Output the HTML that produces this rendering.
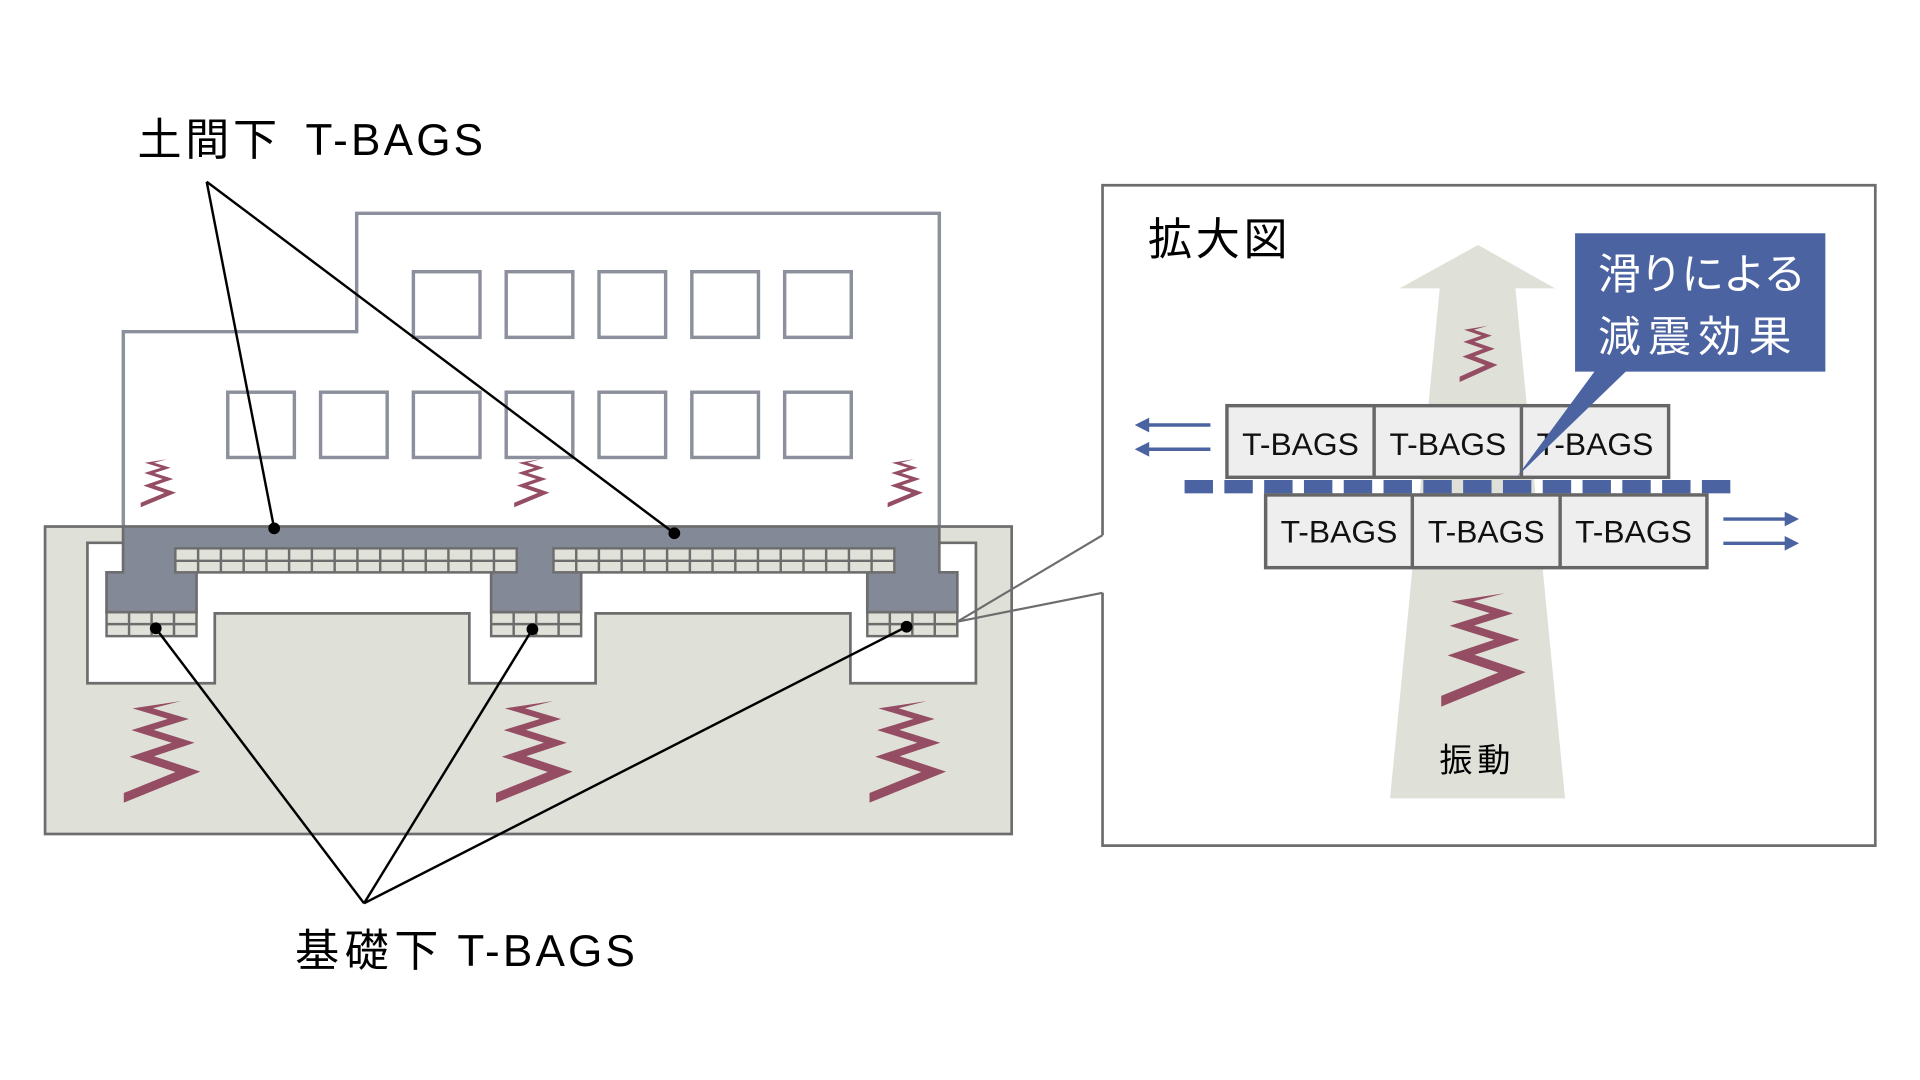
<!DOCTYPE html>
<html><head><meta charset="utf-8"><style>
html,body{margin:0;padding:0;background:#fff;}
svg{display:block;}
text{font-family:"Liberation Sans","Noto Sans CJK JP",sans-serif;}
</style></head><body>
<svg width="1920" height="1080" viewBox="0 0 1568 882" xmlns="http://www.w3.org/2000/svg">
<defs>
<path id="sp" d="M75,0 L11.5,7.2 L57.6,17.55 L10,28.6 L62.6,41 L7.5,54.8 L67.6,69.9 L0,90.5 L0,100 L100,69.5 L39.4,54.3 L92.5,41 L38.9,28.4 L85,17.7 L37.9,7.1 Z" fill="#944d63"/>
</defs>
<rect width="1568" height="882" fill="#fff"/>

<!-- ground -->
<rect x="36.8" y="430" width="789.4" height="251.1" fill="#dfe0d8" stroke="#6d6d6d" stroke-width="2.2"/>
<path d="M100.5,443.3 H71.4 V558 H175.4 V500.9 H383.3 V558 H486.4 V500.9 H694.5 V558 H797 V443.3 H767 Z" fill="#fff" stroke="#6d6d6d" stroke-width="2.2"/>

<!-- building -->
<polyline points="100.7,430 100.7,270.9 291.3,270.9 291.3,174.2 767.1,174.2 767.1,430" fill="#fff" stroke="#8b909c" stroke-width="2.8"/>
<g fill="none" stroke="#8b909c" stroke-width="2.8">
<rect x="337.6" y="221.9" width="54.4" height="53.6"/>
<rect x="413.4" y="221.9" width="54.4" height="53.6"/>
<rect x="489.2" y="221.9" width="54.4" height="53.6"/>
<rect x="565" y="221.9" width="54.4" height="53.6"/>
<rect x="640.8" y="221.9" width="54.4" height="53.6"/>
<rect x="186" y="320.3" width="54.4" height="53.3"/>
<rect x="261.8" y="320.3" width="54.4" height="53.3"/>
<rect x="337.6" y="320.3" width="54.4" height="53.3"/>
<rect x="413.4" y="320.3" width="54.4" height="53.3"/>
<rect x="489.2" y="320.3" width="54.4" height="53.3"/>
<rect x="565" y="320.3" width="54.4" height="53.3"/>
<rect x="640.8" y="320.3" width="54.4" height="53.3"/>
</g>

<!-- small springs in building -->
<use href="#sp" transform="translate(114.9,375.1) scale(0.288,0.392)"/>
<use href="#sp" transform="translate(419.9,375.1) scale(0.288,0.392)"/>
<use href="#sp" transform="translate(724.9,375.1) scale(0.288,0.392)"/>

<!-- slab -->
<path d="M100.5,430 H767.1 V467.4 H781.8 V500 H708.3 V467.4 H474.6 V500 H401.1 V467.4 H160.5 V500 H87 V467.4 H100.5 Z" fill="#838996" stroke="#6d6d6d" stroke-width="2.2"/>

<!-- slab grids -->
<g fill="#e0e1d9" stroke="#6d6d6d" stroke-width="2">
<rect x="143.2" y="447.8" width="278.8" height="19.6"/>
<rect x="452" y="447.8" width="278.4" height="19.6"/>
<rect x="87" y="500" width="73.5" height="19.5"/>
<rect x="401.1" y="500" width="73.5" height="19.5"/>
<rect x="708.3" y="500" width="73.5" height="19.5"/>
</g>
<g stroke="#6d6d6d" stroke-width="2" fill="none">
<path d="M143.2,458 H422 M452,458 H730.4 M87,509.7 H160.5 M401.1,509.7 H474.6 M708.3,509.7 H781.8"/>
<path d="M161.8,447.8V467.4 M180.4,447.8V467.4 M199,447.8V467.4 M217.6,447.8V467.4 M236.1,447.8V467.4 M254.7,447.8V467.4 M273.3,447.8V467.4 M291.9,447.8V467.4 M310.5,447.8V467.4 M329.1,447.8V467.4 M347.7,447.8V467.4 M366.2,447.8V467.4 M384.8,447.8V467.4 M403.4,447.8V467.4"/>
<path d="M470.6,447.8V467.4 M489.1,447.8V467.4 M507.7,447.8V467.4 M526.2,447.8V467.4 M544.8,447.8V467.4 M563.4,447.8V467.4 M581.9,447.8V467.4 M600.5,447.8V467.4 M619,447.8V467.4 M637.6,447.8V467.4 M656.2,447.8V467.4 M674.7,447.8V467.4 M693.3,447.8V467.4 M711.8,447.8V467.4"/>
<path d="M105.4,500V519.5 M123.8,500V519.5 M142.1,500V519.5 M419.5,500V519.5 M437.9,500V519.5 M456.2,500V519.5 M726.7,500V519.5 M745.1,500V519.5 M763.4,500V519.5"/>
</g>

<!-- big springs in ground -->
<use href="#sp" transform="translate(101.1,572.5) scale(0.625,0.83)"/>
<use href="#sp" transform="translate(405.1,572.5) scale(0.625,0.83)"/>
<use href="#sp" transform="translate(710.1,572.5) scale(0.625,0.83)"/>

<!-- callout connector -->
<g stroke="#6d6d6d" stroke-width="1.8" fill="none">
<line x1="781.8" y1="507.7" x2="900.4" y2="437.1"/>
<line x1="781.8" y1="507.7" x2="900.4" y2="484.1"/>
<path d="M900.4,437.1 V151.3 H1531.5 V690.6 H900.4 V484.1" stroke-width="2.2"/>
</g>

<!-- leader lines -->
<g stroke="#000" stroke-width="2" fill="none">
<line x1="168.8" y1="148.4" x2="223.9" y2="431.5"/>
<line x1="168.8" y1="148.4" x2="550.7" y2="435.5"/>
<line x1="297.3" y1="737.7" x2="127.2" y2="513.1"/>
<line x1="297.3" y1="737.7" x2="434.8" y2="513.9"/>
<line x1="297.3" y1="737.7" x2="740.4" y2="511.8"/>
</g>
<g fill="#000">
<circle cx="223.9" cy="431.5" r="4.8"/>
<circle cx="550.7" cy="435.5" r="4.8"/>
<circle cx="127.2" cy="513.1" r="4.8"/>
<circle cx="434.8" cy="513.9" r="4.8"/>
<circle cx="740.4" cy="511.8" r="4.8"/>
</g>

<!-- labels -->
<text x="112.3" y="126.6" font-size="36" textLength="114" lengthAdjust="spacing" fill="#000">土間下</text>
<text x="249.5" y="126.6" font-size="36" textLength="145" lengthAdjust="spacing" fill="#000">T-BAGS</text>
<text x="241" y="788.9" font-size="36" textLength="117" lengthAdjust="spacing" fill="#000">基礎下</text>
<text x="373.5" y="788.9" font-size="36" textLength="145" lengthAdjust="spacing" fill="#000">T-BAGS</text>

<!-- right panel -->
<text x="937.5" y="208" font-size="36" textLength="114" lengthAdjust="spacing" fill="#000">拡大図</text>

<polygon points="1207.1,200.1 1270,235.5 1237.6,235.5 1278.1,652 1135.2,652 1175.8,235.5 1142.9,235.5" fill="#dfe0d8"/>
<use href="#sp" transform="translate(1192,266) scale(0.31,0.46)"/>
<use href="#sp" transform="translate(1177,484.5) scale(0.69,0.926)"/>
<text x="1175.5" y="630" font-size="27" textLength="58" lengthAdjust="spacing" fill="#000">振動</text>

<!-- dashed slip line -->
<g fill="#4b63a1">
<rect x="967.4" y="392" width="23.2" height="10.9"/>
<rect x="999.9" y="392" width="23.2" height="10.9"/>
<rect x="1032.4" y="392" width="23.2" height="10.9"/>
<rect x="1064.9" y="392" width="23.2" height="10.9"/>
<rect x="1097.4" y="392" width="23.2" height="10.9"/>
<rect x="1129.9" y="392" width="23.2" height="10.9"/>
<rect x="1162.4" y="392" width="23.2" height="10.9"/>
<rect x="1194.9" y="392" width="23.2" height="10.9"/>
<rect x="1227.4" y="392" width="23.2" height="10.9"/>
<rect x="1259.9" y="392" width="23.2" height="10.9"/>
<rect x="1292.4" y="392" width="23.2" height="10.9"/>
<rect x="1324.9" y="392" width="23.2" height="10.9"/>
<rect x="1357.4" y="392" width="23.2" height="10.9"/>
<rect x="1389.9" y="392" width="23.2" height="10.9"/>
</g>

<!-- T-BAGS boxes -->
<g fill="#eeeeee" stroke="#666" stroke-width="2.8">
<rect x="1002" y="331.3" width="360.7" height="58.5"/>
<rect x="1033.6" y="404.2" width="360.4" height="59.4"/>
</g>
<g stroke="#666" stroke-width="2.8">
<line x1="1122.2" y1="331.3" x2="1122.2" y2="389.8"/>
<line x1="1242.5" y1="331.3" x2="1242.5" y2="389.8"/>
<line x1="1153.4" y1="404.2" x2="1153.4" y2="463.6"/>
<line x1="1274.1" y1="404.2" x2="1274.1" y2="463.6"/>
</g>
<g font-size="26" text-anchor="middle" fill="#111">
<text x="1062.1" y="371.6">T-BAGS</text>
<text x="1182.4" y="371.6">T-BAGS</text>
<text x="1302.6" y="371.6">T-BAGS</text>
<text x="1093.5" y="443.2">T-BAGS</text>
<text x="1213.8" y="443.2">T-BAGS</text>
<text x="1334" y="443.2">T-BAGS</text>
</g>

<!-- horizontal arrows -->
<g stroke="#4b63a1" stroke-width="2.8">
<line x1="988.5" y1="347.1" x2="934" y2="347.1"/>
<line x1="988.5" y1="366.9" x2="934" y2="366.9"/>
<line x1="1407.4" y1="423.9" x2="1462" y2="423.9"/>
<line x1="1407.4" y1="443.7" x2="1462" y2="443.7"/>
</g>
<g fill="#4b63a1">
<polygon points="926.7,347.1 938.5,341.1 938.5,353.1"/>
<polygon points="926.7,366.9 938.5,360.9 938.5,372.9"/>
<polygon points="1469.2,423.9 1457.5,417.9 1457.5,429.9"/>
<polygon points="1469.2,443.7 1457.5,437.7 1457.5,449.7"/>
</g>

<!-- blue callout -->
<rect x="1286.3" y="190.5" width="204.4" height="113" fill="#4b63a1"/>
<polygon points="1302.5,303 1328.2,303 1238.8,389.3" fill="#4b63a1"/>
<text x="1305" y="236" font-size="35" textLength="170" lengthAdjust="spacing" fill="#fff">滑りによる</text>
<text x="1305" y="287" font-size="35" textLength="158" lengthAdjust="spacing" fill="#fff">減震効果</text>
</svg>
</body></html>
